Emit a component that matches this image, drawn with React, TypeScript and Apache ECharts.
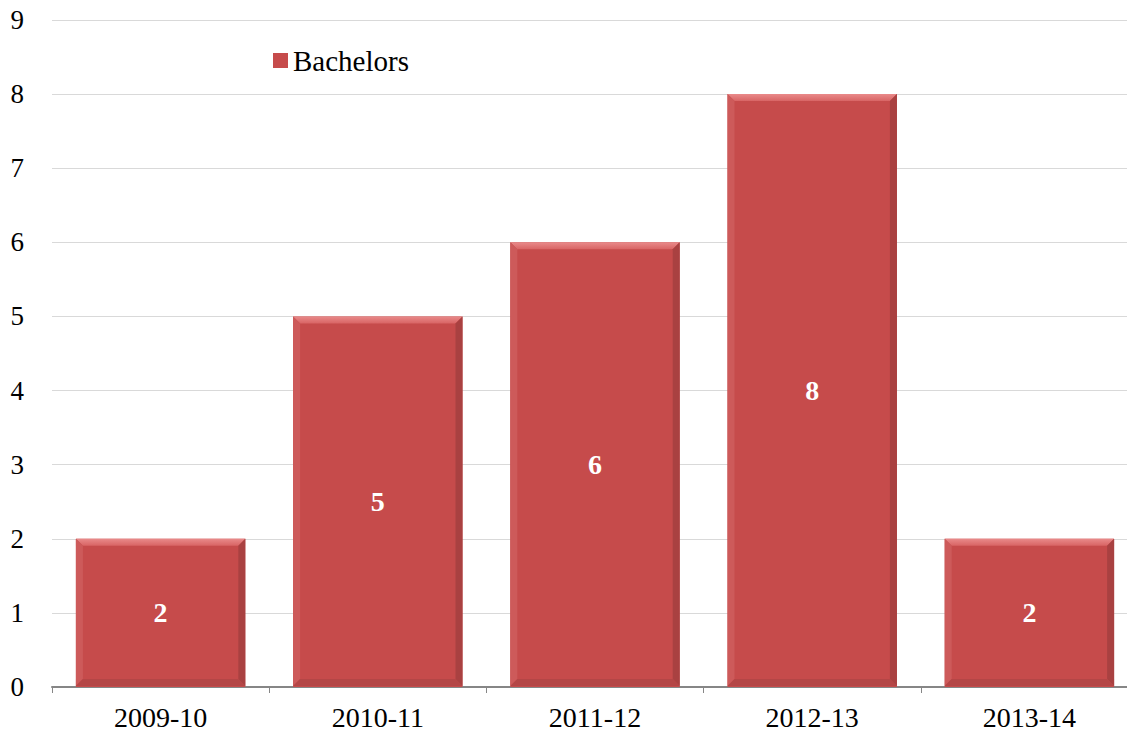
import React, { useEffect, useRef } from "react";
import * as echarts from "echarts";

const categories = ["2009-10", "2010-11", "2011-12", "2012-13", "2013-14"];
const bachelors = [2, 5, 6, 8, 2];
const seriesName = "Bachelors";
const yMin = 0;
const yMax = 9;
const yInterval = 1;

const FONT = "'Liberation Serif', 'DejaVu Serif', serif";
const BAR_COLOR = "#C64B4B";

export default function App() {
  const ref = useRef<HTMLDivElement>(null);
  useEffect(() => {
    if (!ref.current) return;
    const chart = echarts.init(ref.current, null, { renderer: "svg" });
    const bevel = 7;
    chart.setOption({
      animation: false,
      backgroundColor: "#ffffff",
      grid: { left: 52, right: 0, top: 20, bottom: 51, containLabel: false },
      legend: {
        data: [{ name: seriesName, icon: "rect" }],
        left: 268,
        top: 41,
        itemWidth: 15,
        itemHeight: 15,
        textStyle: { fontFamily: FONT, fontSize: 29, color: "#000" },
      },
      xAxis: {
        type: "category",
        data: categories,
        axisLine: { show: true, lineStyle: { color: "#868686", width: 2 } },
        axisTick: { show: true, length: 6, lineStyle: { color: "#868686", width: 1 } },
        axisLabel: { fontFamily: FONT, fontSize: 28, color: "#000", margin: 16 },
        splitLine: { show: false },
      },
      yAxis: {
        type: "value",
        min: yMin,
        max: yMax,
        interval: yInterval,
        axisLine: { show: false },
        axisTick: { show: false },
        axisLabel: { fontFamily: FONT, fontSize: 27, color: "#000", margin: 28 },
        splitLine: { show: true, lineStyle: { color: "#D9D9D9", width: 1 } },
      },
      series: [
        {
          name: seriesName,
          type: "bar",
          data: bachelors,
          barWidth: "78%",
          itemStyle: { color: BAR_COLOR },
          label: {
            show: true,
            position: "inside",
            fontFamily: FONT,
            fontSize: 28,
            fontWeight: "bold",
            color: "#fff",
          },
        },
        {
          name: "bevel",
          type: "custom",
          silent: true,
          data: bachelors.map((v, i) => [i, v]),
          encode: { x: 0, y: 1 },
          renderItem: (params: any, api: any) => {
            const idx = api.value(0);
            const val = api.value(1);
            const top = api.coord([idx, val]);
            const base = api.coord([idx, 0]);
            const w = api.size([1, 0])[0] * 0.78;
            const x0 = top[0] - w / 2;
            const x1 = top[0] + w / 2;
            const y0 = top[1];
            const y1 = base[1] - 1;
            const b = bevel;
            return {
              type: "group",
              children: [
                {
                  type: "polygon",
                  shape: { points: [[x0, y0], [x1, y0], [x1 - b, y0 + b], [x0 + b, y0 + b]] },
                  style: {
                    fill: new echarts.graphic.LinearGradient(0, 0, 0, 1, [
                      { offset: 0, color: "#E98A8A" },
                      { offset: 1, color: "#D86464" },
                    ]),
                  },
                },
                {
                  type: "polygon",
                  shape: { points: [[x0, y0], [x0 + b, y0 + b], [x0 + b, y1 - b], [x0, y1]] },
                  style: { fill: "#CD5A5A" },
                },
                {
                  type: "polygon",
                  shape: { points: [[x1, y0], [x1, y1], [x1 - b, y1 - b], [x1 - b, y0 + b]] },
                  style: { fill: "#A94141" },
                },
                {
                  type: "polygon",
                  shape: { points: [[x0, y1], [x0 + b, y1 - b], [x1 - b, y1 - b], [x1, y1]] },
                  style: { fill: "#B44646" },
                },
              ],
            };
          },
          z: 3,
        },
      ],
    });
    return () => chart.dispose();
  }, []);
  return (
    <div
      style={{ position: "fixed", left: 0, top: 0, width: 1127, height: 738, overflow: "hidden" }}
    >
      <div ref={ref} style={{ width: 1138, height: 738 }} />
    </div>
  );
}
